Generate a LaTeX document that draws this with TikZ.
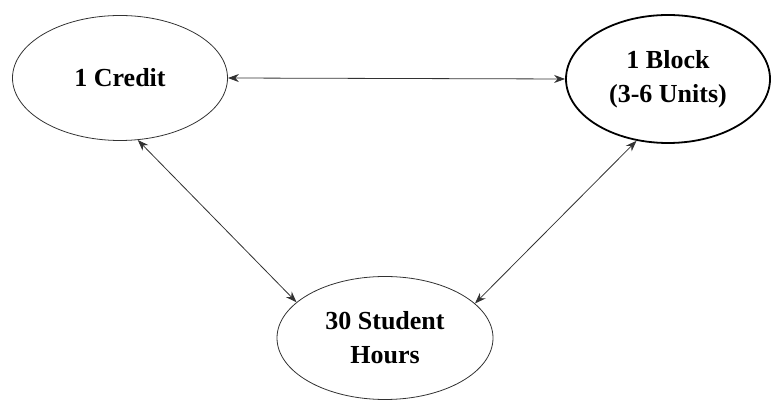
\documentclass[tikz,border=0pt]{standalone}
\usepackage{fontspec}
\setmainfont{Liberation Serif}
\usetikzlibrary{shapes.geometric,arrows.meta}
\definecolor{linegray}{RGB}{50,50,50}

\begin{document}
\begin{tikzpicture}[x=1pt, y=1pt,
        unit/.style={ellipse, draw=linegray, line width=0.8pt, inner sep=0pt, align=center,
            font=\fontsize{26}{34}\selectfont\bfseries},
        link/.style={{Stealth[length=11pt,width=8pt]}-{Stealth[length=11pt,width=8pt]}, draw=linegray, line width=0.8pt}]
                \useasboundingbox (0,0) rectangle (773,401);
                \node[unit, minimum width=215pt, minimum height=125pt] (credit) at (120,323) {1 Credit};
                \node[unit, draw=black, line width=1.8pt, minimum width=204pt, minimum height=128pt] (block) at (668,322) {1 Block\\(3-6 Units)};
                \node[unit, minimum width=216pt, minimum height=123pt] (hours) at (385,63) {30 Student\\Hours};
                \draw[link] (credit.east) -- (block.west);
                \draw[link] (credit.-74) -- (hours.158);
                \draw[link] (block.-117) -- (hours.21);
            \end{tikzpicture}
\end{document}
